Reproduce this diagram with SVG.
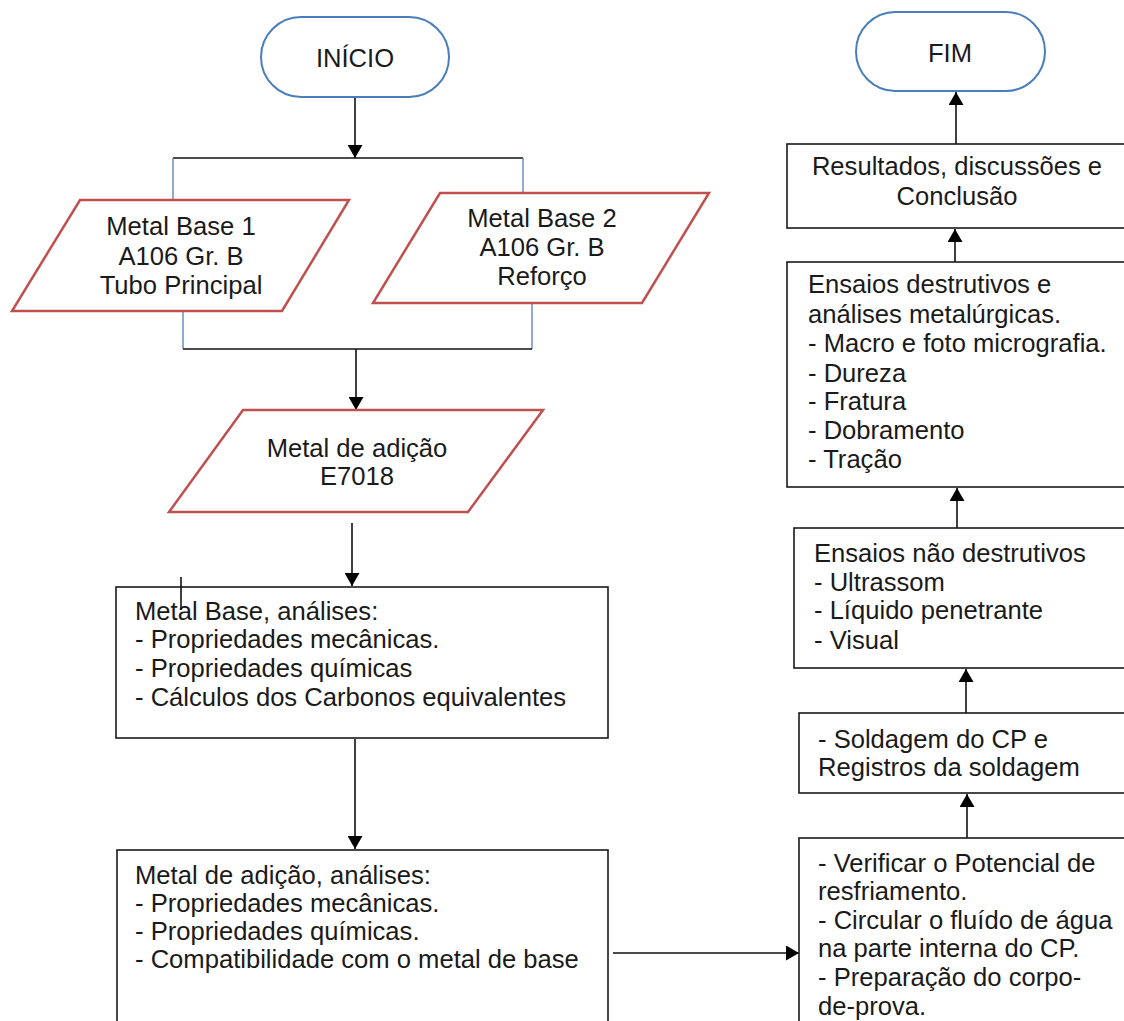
<svg xmlns="http://www.w3.org/2000/svg" width="1124" height="1021" viewBox="0 0 1124 1021">
<style>
text{font-family:"Liberation Sans",Arial,sans-serif;font-size:25.6px;fill:#1a1a1a}
.c{text-anchor:middle}
.term{fill:#fff;stroke:#4a7ebb;stroke-width:2}
.io{fill:#fff;stroke:#c0504d;stroke-width:2.5}
.box{fill:#fff;stroke:#1a1a1a;stroke-width:1.6}
.ln{stroke:#111;stroke-width:1.6;fill:none}
.bl{stroke:#5a7fb0;stroke-width:1.3;fill:none}
</style>
<defs>
<marker id="ah" viewBox="0 0 13 15" refX="13" refY="7.5" markerWidth="13" markerHeight="15" markerUnits="userSpaceOnUse" orient="auto"><path d="M0,0 L13,7.5 L0,15 Z" fill="#000"/></marker>
</defs>
<rect width="1124" height="1021" fill="#fff"/>
<g id="connectors">
<line class="ln" x1="355" y1="97" x2="355" y2="158" marker-end="url(#ah)"/>
<line class="ln" x1="173" y1="158" x2="523" y2="158"/>
<line class="bl" x1="173" y1="158" x2="173" y2="200"/>
<line class="bl" x1="523" y1="158" x2="523" y2="193"/>
<line class="bl" x1="183" y1="311" x2="183" y2="349"/>
<line class="bl" x1="532" y1="303" x2="532" y2="349"/>
<line class="ln" x1="183" y1="349" x2="532" y2="349"/>
<line class="ln" x1="356" y1="349" x2="356" y2="410" marker-end="url(#ah)"/>
<line class="ln" x1="352" y1="523" x2="352" y2="586" marker-end="url(#ah)"/>
<line class="ln" x1="355" y1="739" x2="355" y2="849" marker-end="url(#ah)"/>
<line class="ln" x1="613" y1="953" x2="799" y2="953" marker-end="url(#ah)"/>
<line class="ln" x1="967" y1="838" x2="967" y2="794" marker-end="url(#ah)"/>
<line class="ln" x1="966" y1="713" x2="966" y2="669" marker-end="url(#ah)"/>
<line class="ln" x1="957" y1="528" x2="957" y2="488" marker-end="url(#ah)"/>
<line class="ln" x1="955" y1="262" x2="955" y2="229" marker-end="url(#ah)"/>
<line class="ln" x1="956" y1="144" x2="956" y2="92" marker-end="url(#ah)"/>
</g>
<g id="inicio">
<rect class="term" x="261" y="17" width="188" height="80" rx="40" ry="40"/>
<text class="c" x="355" y="67">INÍCIO</text>
</g>
<g id="base1">
<polygon class="io" points="80,200 349,200 282,311 12,311"/>
<text class="c" x="181" y="235">Metal Base 1</text>
<text class="c" x="181" y="265">A106 Gr. B</text>
<text class="c" x="181" y="294">Tubo Principal</text>
</g>
<g id="base2">
<polygon class="io" points="440,193 709,193 642,303 373,303"/>
<text class="c" x="542" y="227">Metal Base 2</text>
<text class="c" x="542" y="256">A106 Gr. B</text>
<text class="c" x="542" y="285">Reforço</text>
</g>
<g id="adicao">
<polygon class="io" points="243,410 543,410 468,512 169,512"/>
<text class="c" x="357" y="457">Metal de adição</text>
<text class="c" x="357" y="485">E7018</text>
</g>
<g id="analise-base">
<rect class="box" x="116" y="587" width="492" height="151"/>
<line class="ln" x1="181" y1="577" x2="181" y2="610"/>
<text x="135" y="620">Metal Base, análises:</text>
<text x="135" y="648">- Propriedades mecânicas.</text>
<text x="135" y="677">- Propriedades químicas</text>
<text x="135" y="706">- Cálculos dos Carbonos equivalentes</text>
</g>
<g id="analise-adicao">
<rect class="box" x="117" y="850" width="491" height="200"/>
<text x="135" y="884">Metal de adição, análises:</text>
<text x="135" y="912">- Propriedades mecânicas.</text>
<text x="135" y="940">- Propriedades químicas.</text>
<text x="135" y="968">- Compatibilidade com o metal de base</text>
</g>
<g id="fim">
<rect class="term" x="856" y="12" width="189" height="79" rx="39.5" ry="39.5"/>
<text class="c" x="950" y="62">FIM</text>
</g>
<g id="resultados">
<rect class="box" x="787" y="144" width="360" height="84"/>
<text class="c" x="957" y="175">Resultados, discussões e</text>
<text class="c" x="957" y="205">Conclusão</text>
</g>
<g id="destrutivos">
<rect class="box" x="787" y="262" width="360" height="225"/>
<text x="808" y="293">Ensaios destrutivos e</text>
<text x="808" y="323">análises metalúrgicas.</text>
<text x="808" y="352">- Macro e foto micrografia.</text>
<text x="808" y="382">- Dureza</text>
<text x="808" y="410">- Fratura</text>
<text x="808" y="439">- Dobramento</text>
<text x="808" y="468">- Tração</text>
</g>
<g id="nao-destrutivos">
<rect class="box" x="794" y="528" width="360" height="140"/>
<text x="814" y="562">Ensaios não destrutivos</text>
<text x="814" y="591">- Ultrassom</text>
<text x="814" y="619">- Líquido penetrante</text>
<text x="814" y="649">- Visual</text>
</g>
<g id="soldagem">
<rect class="box" x="799" y="713" width="360" height="80"/>
<text x="818" y="748">- Soldagem do CP e</text>
<text x="818" y="776">Registros da soldagem</text>
</g>
<g id="verificar">
<rect class="box" x="799" y="838" width="360" height="220"/>
<text x="818" y="872">- Verificar o Potencial de</text>
<text x="818" y="900">resfriamento.</text>
<text x="818" y="929">- Circular o fluído de água</text>
<text x="818" y="957">na parte interna do CP.</text>
<text x="818" y="986">- Preparação do corpo-</text>
<text x="818" y="1015">de-prova.</text>
</g>
</svg>
